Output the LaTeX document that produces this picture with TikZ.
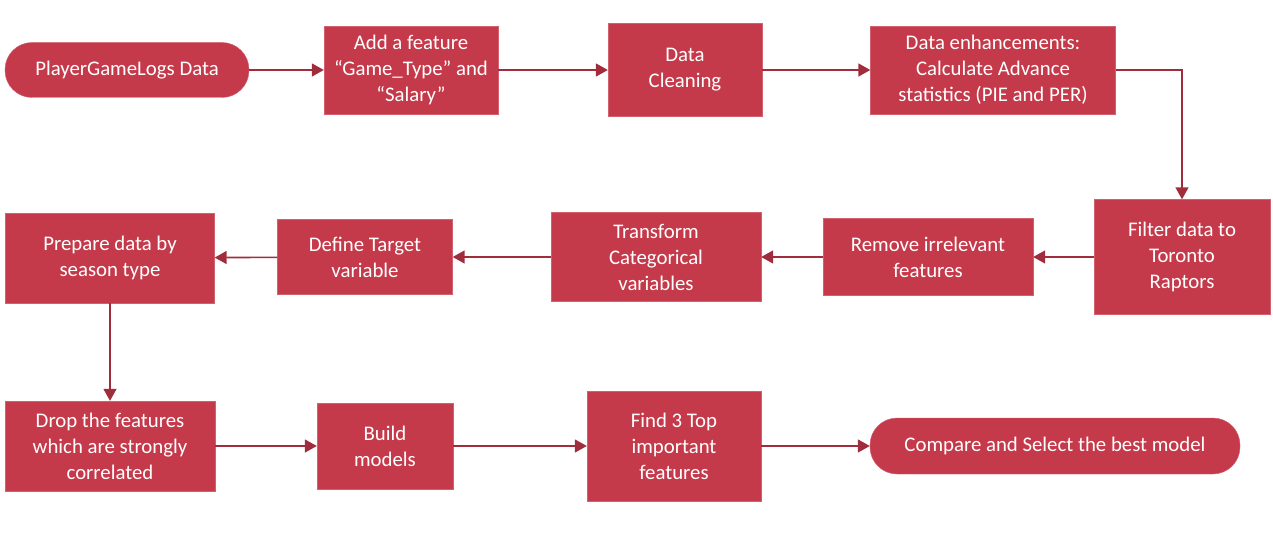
\documentclass[tikz,border=0pt]{standalone}
\usepackage{fontspec}
\setmainfont{Carlito}
\usetikzlibrary{arrows.meta}
\definecolor{boxred}{HTML}{C53A4A}
\definecolor{linered}{HTML}{A02C3C}
\tikzset{
  stepbox/.style={fill=boxred, draw=boxred!80!white, text=white, inner sep=0pt,
    align=center, font=\fontsize{20.8}{26}\selectfont},
  endbox/.style={stepbox, rounded corners=27pt},
  flow/.style={draw=linered, line width=1.6pt, -{Triangle[length=12pt,width=13pt]}}
}
\begin{document}
\begin{tikzpicture}[x=1pt,y=-1pt]
        \useasboundingbox (0,0) rectangle (1273,537);

        % first row
        \node[endbox, minimum width=244, minimum height=55] (logs) at (127,70) {PlayerGameLogs Data};
        \node[stepbox, minimum width=174, minimum height=88] (feat) at (411,70) {Add a feature\\``Game\_Type'' and\\``Salary''};
        \node[stepbox, minimum width=154, minimum height=93] (clean) at (685,70) {Data\\Cleaning};
        \node[stepbox, minimum width=245, minimum height=88] (enh) at (993,70) {Data enhancements:\\Calculate Advance\\statistics (PIE and PER)};

        % second row
        \node[stepbox, minimum width=176, minimum height=115] (filt) at (1182,257) {Filter data to\\Toronto\\Raptors};
        \node[stepbox, minimum width=210, minimum height=77] (remove) at (928,257) {Remove irrelevant\\features};
        \node[stepbox, minimum width=210, minimum height=89] (trans) at (656,257) {Transform\\Categorical\\variables};
        \node[stepbox, minimum width=175, minimum height=75] (target) at (365,257) {Define Target\\variable};
        \node[stepbox, minimum width=209, minimum height=90] (prep) at (110,258) {Prepare data by\\season type};

        % third row
        \node[stepbox, minimum width=210, minimum height=90] (drop) at (110,446) {Drop the features\\which are strongly\\correlated};
        \node[stepbox, minimum width=136, minimum height=86] (build) at (385,446) {Build\\models};
        \node[stepbox, minimum width=174, minimum height=110] (top) at (674,446) {Find 3 Top\\important\\features};
        \node[endbox, minimum width=370, minimum height=56] (best) at (1055,446) {Compare and Select the best model};

        \draw[flow] (logs) -- (feat);
        \draw[flow] (feat) -- (clean);
        \draw[flow] (clean) -- (enh);
        \draw[flow] (enh.east) -| (filt.north);
        \draw[flow] (filt) -- (remove);
        \draw[flow] (remove) -- (trans);
        \draw[flow] (trans) -- (target);
        \draw[flow] (target) -- (prep);
        \draw[flow] (prep) -- (drop);
        \draw[flow] (drop) -- (build);
        \draw[flow] (build) -- (top);
        \draw[flow] (top) -- (best);
\end{tikzpicture}
\end{document}
